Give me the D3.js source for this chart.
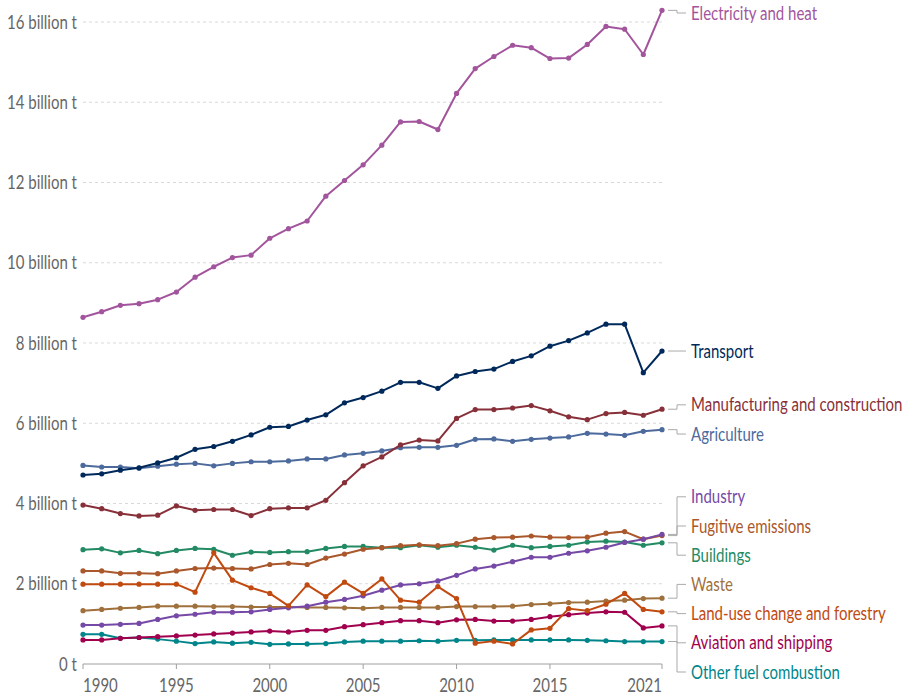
<!DOCTYPE html>
<html>
<head>
<meta charset="utf-8">
<script src="https://cdn.jsdelivr.net/npm/d3@7"></script>
<style>
  html, body { margin: 0; padding: 0; background: #fff; }
  svg { display: block; font-family: Lato, "Open Sans", sans-serif; }
</style>
</head>
<body>
<svg id="chart" width="908" height="698"></svg>
<script>
const years = d3.range(1990, 2022);

const seriesNames = ["Electricity and heat", "Transport", "Manufacturing and construction", "Agriculture",
  "Industry", "Fugitive emissions", "Buildings", "Waste", "Land-use change and forestry",
  "Aviation and shipping", "Other fuel combustion"];

const electricity = [8.64, 8.78, 8.94, 8.98, 9.08, 9.27, 9.64, 9.90, 10.13, 10.19, 10.61, 10.85, 11.04, 11.66, 12.05, 12.44,
  12.93, 13.51, 13.52, 13.32, 14.22, 14.84, 15.14, 15.42, 15.36, 15.09, 15.10, 15.44, 15.89, 15.82, 15.19, 16.29];
const transport = [4.71, 4.74, 4.83, 4.89, 5.01, 5.14, 5.35, 5.42, 5.55, 5.71, 5.90, 5.92, 6.08, 6.21, 6.51, 6.64,
  6.80, 7.02, 7.02, 6.87, 7.18, 7.29, 7.35, 7.54, 7.68, 7.92, 8.06, 8.25, 8.47, 8.47, 7.26, 7.80];
const manufacturing = [3.96, 3.87, 3.75, 3.69, 3.71, 3.94, 3.83, 3.85, 3.85, 3.70, 3.87, 3.89, 3.89, 4.08, 4.52, 4.94,
  5.16, 5.46, 5.58, 5.56, 6.12, 6.34, 6.34, 6.38, 6.44, 6.31, 6.16, 6.09, 6.24, 6.27, 6.20, 6.35];
const agriculture = [4.95, 4.91, 4.91, 4.88, 4.93, 4.98, 5.00, 4.94, 5.00, 5.04, 5.04, 5.06, 5.11, 5.11, 5.21, 5.25,
  5.31, 5.39, 5.40, 5.40, 5.45, 5.60, 5.61, 5.55, 5.60, 5.63, 5.66, 5.75, 5.73, 5.70, 5.80, 5.84];
const industry = [0.97, 0.97, 0.99, 1.01, 1.11, 1.20, 1.24, 1.29, 1.29, 1.30, 1.36, 1.40, 1.44, 1.54, 1.61, 1.70,
  1.84, 1.97, 2.00, 2.07, 2.21, 2.37, 2.44, 2.55, 2.66, 2.66, 2.76, 2.82, 2.91, 3.03, 3.11, 3.23];
const fugitive = [2.32, 2.32, 2.26, 2.26, 2.25, 2.32, 2.38, 2.39, 2.38, 2.37, 2.48, 2.51, 2.48, 2.64, 2.74, 2.86,
  2.90, 2.95, 2.97, 2.95, 3.00, 3.11, 3.15, 3.16, 3.19, 3.16, 3.15, 3.16, 3.26, 3.30, 3.11, 3.20];
const buildings = [2.85, 2.87, 2.77, 2.83, 2.75, 2.83, 2.88, 2.86, 2.71, 2.79, 2.78, 2.80, 2.80, 2.88, 2.93, 2.93,
  2.90, 2.90, 2.96, 2.91, 2.96, 2.91, 2.84, 2.96, 2.90, 2.93, 2.96, 3.04, 3.06, 3.04, 2.96, 3.02];
const waste = [1.33, 1.36, 1.39, 1.41, 1.44, 1.44, 1.44, 1.43, 1.43, 1.42, 1.42, 1.42, 1.41, 1.41, 1.40, 1.39,
  1.41, 1.41, 1.41, 1.41, 1.43, 1.43, 1.43, 1.44, 1.48, 1.50, 1.53, 1.54, 1.57, 1.59, 1.63, 1.64];
const landUse = [1.99, 1.99, 1.99, 1.99, 1.99, 1.99, 1.79, 2.77, 2.09, 1.90, 1.76, 1.45, 1.97, 1.68, 2.04, 1.76,
  2.12, 1.59, 1.54, 1.93, 1.63, 0.52, 0.57, 0.50, 0.85, 0.89, 1.38, 1.33, 1.49, 1.76, 1.36, 1.30];
const aviation = [0.60, 0.60, 0.64, 0.66, 0.68, 0.70, 0.72, 0.75, 0.77, 0.80, 0.82, 0.80, 0.84, 0.84, 0.93, 0.98,
  1.03, 1.08, 1.08, 1.03, 1.10, 1.11, 1.07, 1.07, 1.11, 1.18, 1.23, 1.27, 1.30, 1.29, 0.90, 0.95];
const otherFuel = [0.74, 0.74, 0.64, 0.66, 0.62, 0.57, 0.51, 0.55, 0.52, 0.54, 0.49, 0.50, 0.50, 0.51, 0.55, 0.57,
  0.57, 0.57, 0.58, 0.57, 0.59, 0.59, 0.60, 0.60, 0.60, 0.60, 0.60, 0.59, 0.58, 0.56, 0.56, 0.56];

const seriesValues = [electricity, transport, manufacturing, agriculture, industry, fugitive, buildings,
  waste, landUse, aviation, otherFuel];
const seriesColors = ["#a2559c", "#00295b", "#883039", "#4c6a9c", "#7649a6", "#a9572b", "#238a64",
  "#a0703c", "#c04a0f", "#a0004d", "#00868a"];

const yTicks = [0, 2, 4, 6, 8, 10, 12, 14, 16];
const yTickLabels = ["0 t", "2 billion t", "4 billion t", "6 billion t", "8 billion t", "10 billion t",
  "12 billion t", "14 billion t", "16 billion t"];
const xTicks = [1990, 1995, 2000, 2005, 2010, 2015, 2021];

// ---- layout ----
const svg = d3.select("#chart");
const x = d3.scaleLinear().domain([1990, 2021]).range([83, 662]);
const y = d3.scaleLinear().domain([0, 16]).range([664, 22]);
const SX = 0.79;      // horizontal squish of the text
const FS = 19;

function sText(g, tx, ty, str, anchor, color) {
  return g.append("text")
    .attr("transform", `translate(${tx},${ty}) scale(${SX},1)`)
    .attr("text-anchor", anchor)
    .attr("dy", "0.35em")
    .attr("fill", color)
    .style("font-size", FS + "px")
    .text(str);
}

// grid
const grid = svg.append("g");
yTicks.forEach((t, i) => {
  if (t > 0) {
    grid.append("line")
      .attr("x1", x(1990)).attr("x2", x(2021))
      .attr("y1", y(t)).attr("y2", y(t))
      .attr("stroke", "#d9d9d9").attr("stroke-width", 1)
      .attr("stroke-dasharray", "3,3");
  }
  sText(grid, 77, y(t), yTickLabels[i], "end", "#666");
});

// x axis
const xa = svg.append("g");
xa.append("line").attr("x1", x(1990)).attr("x2", x(2021))
  .attr("y1", y(0)).attr("y2", y(0)).attr("stroke", "#a0a0a0").attr("stroke-width", 1);
xTicks.forEach((t, i) => {
  xa.append("line").attr("x1", x(t)).attr("x2", x(t)).attr("y1", y(0)).attr("y2", y(0) + 5)
    .attr("stroke", "#a0a0a0");
  const anchor = i === 0 ? "start" : (i === xTicks.length - 1 ? "end" : "middle");
  sText(xa, x(t), 685, String(t), anchor, "#666");
});

// lines
const line = d3.line().x((d, i) => x(years[i])).y(d => y(d));
const order = [10, 9, 7, 6, 5, 4, 3, 2, 1, 0, 8];
order.forEach(k => {
  const g = svg.append("g");
  g.append("path").datum(seriesValues[k]).attr("d", line)
    .attr("fill", "none").attr("stroke", seriesColors[k]).attr("stroke-width", 2)
    .attr("stroke-linejoin", "round");
  g.selectAll("circle").data(seriesValues[k]).join("circle")
    .attr("cx", (d, i) => x(years[i])).attr("cy", d => y(d)).attr("r", 2.6)
    .attr("fill", seriesColors[k]);
});

// label placement (collision avoidance)
const GAP = 29.2, MINY = 13, MAXY = 672;
const labs = seriesNames.map((n, k) => ({ k, name: n, y0: y(seriesValues[k][years.length - 1]) }))
  .sort((a, b) => a.y0 - b.y0);
labs.forEach((l, i) => { l.y = Math.max(l.y0, MINY, i ? labs[i - 1].y + GAP : -1e9); });
for (let i = labs.length - 1; i >= 0; i--) {
  labs[i].y = Math.min(labs[i].y, i < labs.length - 1 ? labs[i + 1].y - GAP : MAXY);
}
// centre two-label pairs that were only pushed apart by each other
for (let i = 1; i < labs.length; i++) {
  const a = labs[i - 1], b = labs[i];
  if (a.y === a.y0 && b.y > b.y0 && (i + 1 >= labs.length || labs[i + 1].y - b.y > GAP + 20)) {
    const m = (a.y0 + b.y0) / 2;
    a.y = m - GAP / 2; b.y = m + GAP / 2;
  }
}

const lg = svg.append("g");
labs.forEach(l => {
  const xe = x(2021);
  lg.append("path")
    .attr("d", `M${xe + 6},${l.y0}H${677}V${l.y}H${686}`)
    .attr("fill", "none").attr("stroke", "#aaa").attr("stroke-width", 1);
  sText(lg, 691, l.y, l.name, "start", seriesColors[l.k]);
});
</script>
</body>
</html>
